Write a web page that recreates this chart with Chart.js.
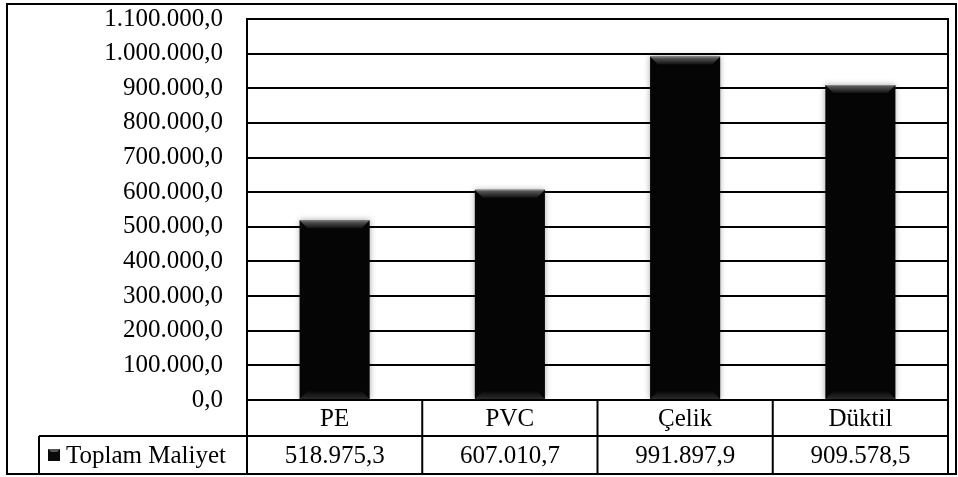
<!DOCTYPE html>
<html>
<head>
<meta charset="utf-8">
<script src="https://cdn.jsdelivr.net/npm/chart.js@4/dist/chart.umd.min.js"></script>
<style>
  html, body { margin: 0; padding: 0; background: #fff; }
  #wrap { width: 958px; height: 477px; }
</style>
</head>
<body>
<div id="wrap"><canvas id="c" width="958" height="477"></canvas></div>
<script>
/* ── Toplam maliyet grafiği ── */

const categories = ['PE', 'PVC', 'Çelik', 'Düktil'];
const seriesName = 'Toplam Maliyet';
const costs = [518975.3, 607010.7, 991897.9, 909578.5];
const yMin = 0;
const yMax = 1100000;
const yStep = 100000;

const FONT = '"Liberation Serif", "Times New Roman", serif';

// 1234567.8 -> 1.234.567,8
function trNum(v) {
    const [i, f] = v.toFixed(1).split('.');
    return i.replace(/\B(?=(\d{3})+(?!\d))/g, '.') + ',' + f;
}

// bar gölgesi
const shadowPlugin = {
    id: 'barShadow',
    beforeDatasetsDraw(chart) {
        const ctx = chart.ctx;
        ctx.save();
        ctx.shadowColor = 'rgba(0,0,0,0.35)';
        ctx.shadowBlur = 6;
    },
    afterDatasetsDraw(chart) {
        chart.ctx.restore();
    },
};

// bar kenar eğimi (bevel)
const bevelPlugin = {
    id: 'bevel',
    afterDatasetsDraw(chart) {
        const ctx = chart.ctx;
        const meta = chart.getDatasetMeta(0);
        const d = 8;
        meta.data.forEach(bar => {
            const l = bar.x - bar.width / 2, r = bar.x + bar.width / 2;
            const t = bar.y, b = bar.base;
            ctx.save();
            let g = ctx.createLinearGradient(0, t, 0, t + d);
            g.addColorStop(0, '#9a9a9a');
            g.addColorStop(0.2, '#555');
            g.addColorStop(1, '#111');
            ctx.fillStyle = g;
            ctx.beginPath();
            ctx.moveTo(l, t); ctx.lineTo(r, t); ctx.lineTo(r - d, t + d); ctx.lineTo(l + d, t + d);
            ctx.closePath(); ctx.fill();
            g = ctx.createLinearGradient(0, b - d, 0, b);
            g.addColorStop(0, '#080808');
            g.addColorStop(1, '#2a2a2a');
            ctx.fillStyle = g;
            ctx.beginPath();
            ctx.moveTo(l, b); ctx.lineTo(r, b); ctx.lineTo(r - d, b - d); ctx.lineTo(l + d, b - d);
            ctx.closePath(); ctx.fill();
            ctx.restore();
        });
    },
};

// çerçeve ve veri tablosu
const tablePlugin = {
    id: 'dataTable',
    afterDraw(chart) {
        const ctx = chart.ctx;
        const a = chart.chartArea;
        const x = chart.scales.x;
        const colW = (a.right - a.left) / categories.length;
        const row1 = a.bottom + 36, row2 = a.bottom + 74;
        const legL = 39;

        ctx.save();
        ctx.strokeStyle = '#000';
        ctx.lineWidth = 2;

        // plot alanı
        ctx.strokeRect(a.left, a.top, a.right - a.left, a.bottom - a.top);

        // tablo çizgileri
        ctx.beginPath();
        ctx.moveTo(a.left, a.bottom); ctx.lineTo(a.left, row2);
        ctx.moveTo(a.right, a.bottom); ctx.lineTo(a.right, row2);
        ctx.moveTo(legL, row1); ctx.lineTo(a.right, row1);
        ctx.moveTo(legL, row1); ctx.lineTo(legL, row2);
        ctx.moveTo(legL, row2); ctx.lineTo(a.right, row2);
        for (let i = 1; i < categories.length; i++) {
            const px = x.getPixelForValue(i) - colW / 2;
            ctx.moveTo(px, a.bottom); ctx.lineTo(px, row2);
        }
        ctx.stroke();

        // dış çerçeve
        ctx.strokeRect(7, 4, 949, 470);

        // metinler
        ctx.fillStyle = '#000';
        ctx.font = '25px ' + FONT;
        ctx.textAlign = 'center';
        ctx.textBaseline = 'middle';
        categories.forEach((c, i) => {
            const px = x.getPixelForValue(i);
            ctx.fillText(c, px, (a.bottom + row1) / 2 + 1);
            ctx.fillText(trNum(costs[i]), px, (row1 + row2) / 2 + 1);
        });

        // lejant anahtarı
        const ky = (row1 + row2) / 2;
        const ks = 12, kx = 48;
        ctx.fillStyle = '#0a0a0a';
        ctx.fillRect(kx, ky - ks / 2, ks, ks);
        ctx.fillStyle = '#555';
        ctx.beginPath();
        ctx.moveTo(kx, ky - ks / 2); ctx.lineTo(kx + ks, ky - ks / 2);
        ctx.lineTo(kx + ks - 3, ky - ks / 2 + 3); ctx.lineTo(kx + 3, ky - ks / 2 + 3);
        ctx.closePath(); ctx.fill();

        ctx.fillStyle = '#000';
        ctx.textAlign = 'left';
        ctx.fillText(seriesName, 66, ky + 1);
        ctx.restore();
    },
};

new Chart(document.getElementById('c').getContext('2d'), {
    type: 'bar',
    data: {
        labels: categories,
        datasets: [{
            label: seriesName,
            data: costs,
            backgroundColor: '#050505',
            borderWidth: 0,
            categoryPercentage: 1,
            barPercentage: 0.4,
        }],
    },
    options: {
        responsive: false,
        animation: false,
        layout: { padding: { top: 19, right: 10, bottom: 77, left: 0 } },
        plugins: {
            legend: { display: false },
            tooltip: { enabled: false },
        },
        scales: {
            x: { display: false },
            y: {
                min: yMin,
                max: yMax,
                afterFit: s => { s.width = 247; s.paddingTop = 0; s.paddingBottom = 0; },
                border: { display: false },
                grid: { color: '#000', lineWidth: 2, drawTicks: false },
                ticks: {
                    stepSize: yStep,
                    padding: 24,
                    color: '#000',
                    font: { family: FONT, size: 25 },
                    callback: v => trNum(v),
                },
            },
        },
    },
    plugins: [shadowPlugin, bevelPlugin, tablePlugin],
});
</script>
</body>
</html>
